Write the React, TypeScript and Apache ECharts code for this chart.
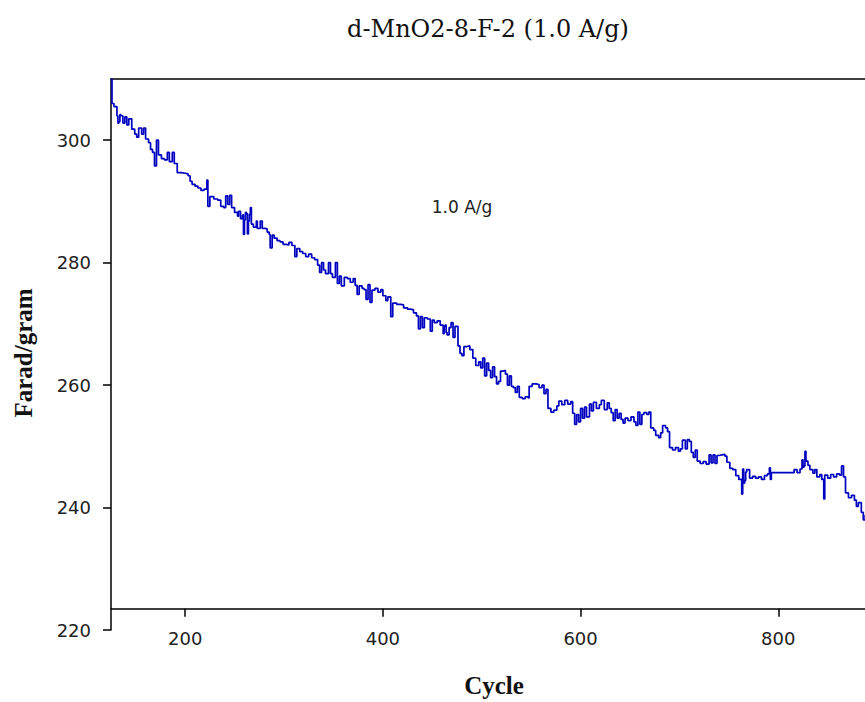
import React, { useEffect, useRef } from 'react';
import * as echarts from 'echarts';

// Specific capacitance (F/g) versus cycle number
const segA: [number, number][] = [
  [125, 310], [126, 306], [128, 305.5], [131, 304], [132, 302.8], [133, 303], [134, 304.2], [135, 304], [137, 302.8], [139, 303.8],
  [141, 302.5], [143, 303.5], [146, 301.8], [149, 301], [151, 300.5], [153, 302], [156, 301], [158, 302],
  [160, 300.2], [163, 299.6], [165, 298.5], [167, 298], [169, 295.8], [171, 300], [173, 297.6], [176, 297],
  [179, 296.8], [182, 298], [184, 296.5], [187, 298], [189, 296.2], [192, 294.7], [196, 294.6], [200, 294.5],
  [203, 294.2], [205, 293.3], [207, 292.8], [210, 292.5], [213, 292.2], [216, 291.8], [219, 292], [222, 293.5],
  [223, 289.2], [225, 290.8], [229, 290.4], [233, 290.2], [236, 289.2], [239, 289], [241, 290.9], [243, 289.5],
  [245, 291], [247, 289], [250, 288.2], [253, 287.6], [254, 288.4], [256, 287.2],
];
const segB: [number, number][] = [
  [258, 287.8], [259, 284.6], [260, 287], [261, 288.2], [262, 288], [263, 284.7], [264, 286.8], [265, 287.9], [266, 289], [267, 286.3],
  [269, 285.8], [272, 286.8], [273, 285.6], [276, 286.8], [278, 285.6], [281, 285.5], [283, 285], [285, 284.6],
  [286, 282.4], [288, 284.5], [290, 284], [293, 283.6], [296, 283.4], [299, 283], [302, 282.9], [305, 283.3],
  [308, 282.8], [311, 281], [313, 282.3], [316, 281.8], [319, 281.5], [322, 281], [325, 281.4], [328, 280.8],
  [331, 280.5], [334, 279.6], [336, 278.4], [338, 280], [340, 278.8], [342, 278.2], [345, 280], [347, 278.2],
  [349, 277.6], [352, 280], [354, 276.6], [356, 277.8], [358, 276.2], [361, 277.6], [364, 277.4], [367, 276.8],
  [370, 277.4], [372, 276.3], [374, 274.8], [376, 276.2], [379, 275.8], [381, 275.6], [383, 274],
];
const segC: [number, number][] = [
  [385, 276.4], [387, 273.5], [389, 275.5], [392, 275.8], [395, 275.2], [398, 275.6], [400, 274.6], [403, 273.8],
  [405, 274.4], [408, 271.2], [410, 273.4], [414, 273.2], [418, 273.1], [421, 272.6], [425, 272.4], [428, 272.3],
  [431, 271.8], [434, 271.3], [436, 269.2], [438, 271.2], [440, 269.4], [442, 271], [445, 270.8], [448, 268.8],
  [450, 270.6], [452, 270.2], [455, 270.5], [458, 269.8], [461, 268.4], [462, 269.6], [463, 269.8], [464, 268.6], [465, 268.2], [467, 269.4],
  [469, 270.2], [471, 267.8], [473, 269.6], [476, 266.4], [478, 265.2], [480, 264.8], [482, 266.3], [485, 266.4],
  [488, 265.8], [491, 264.4], [494, 263.2], [497, 263.8], [499, 262.8], [501, 264.4], [503, 261.5], [505, 263.6],
  [507, 262.4], [509, 261.2], [511, 263], [513, 261.4], [515, 260.2],
];
const segD: [number, number][] = [
  [517, 260.6], [519, 262.3], [522, 262.4], [524, 261.8], [526, 260], [528, 261.5], [530, 259.8], [532, 259.6],
  [534, 258.8], [536, 259.8], [538, 258], [541, 257.8], [544, 258.1], [547, 257.9], [548, 259.8], [551, 260.2],
  [555, 260.1], [558, 259.6], [561, 260], [563, 258.6], [565, 259.3], [567, 256.2], [570, 255.6], [573, 255.9],
  [576, 256.6], [578, 257.4], [581, 256.8], [584, 257.5], [587, 256.9], [590, 257.3], [592, 255.4], [594, 253.6],
  [596, 255.2], [598, 254], [600, 256.2], [602, 254.6], [604, 256.4], [606, 254.8], [609, 256.9], [611, 255.8],
  [613, 257.2], [616, 256.2], [619, 256.8], [621, 257.5], [624, 256], [627, 257.1], [629, 256.2], [631, 255.5],
  [633, 254.2], [635, 256], [637, 254.6], [639, 255.4], [641, 254.4], [643, 253.8], [645, 254.6],
];
const segE: [number, number][] = [
  [648, 254.2], [651, 254.8], [654, 254], [656, 253.4], [658, 255.6], [660, 253.6], [662, 255.2], [664, 255.5],
  [667, 255.2], [669, 255.6], [671, 253], [674, 252.6], [676, 251.8], [679, 251.4], [681, 252.2], [683, 253.4],
  [686, 253], [688, 252.4], [690, 249.8], [693, 249.4], [696, 249.8], [699, 249.2], [701, 249.6], [703, 251],
  [706, 249.6], [708, 251.1], [710, 250.8], [712, 249], [714, 248.2], [716, 249.4], [718, 247.6], [721, 247.2],
  [724, 247.5], [727, 247.1], [730, 248.6], [732, 247.3], [734, 248.6], [736, 247.2], [738, 248.5], [740, 248.6],
  [743, 248.7], [746, 248.4], [748, 247.4], [751, 246.4], [754, 246.2], [757, 245.2], [760, 244.6], [763, 242.2],
  [764, 246.3], [765, 244], [766, 244.4], [767, 245.8], [768, 246.2], [771, 244.8], [774, 245.1], [777, 244.8], [780, 245],
];
const segF: [number, number][] = [
  [783, 244.6], [786, 245.2], [789, 245.5], [791, 246.5], [792, 244.6], [793, 245.7], [800, 245.7], [808, 245.7],
  [814, 245.7], [816, 246.2], [819, 245.7], [822, 246.3], [824, 247.8], [825, 246.6], [826, 246.8], [827, 249.2], [828, 247.6],
  [830, 246.9], [832, 246.2], [835, 245.6], [837, 246.2], [839, 245], [842, 245.4], [844, 244.6], [846, 241.4],
  [847, 245.3], [850, 244.8], [853, 245.4], [856, 245], [859, 245.5], [862, 245.3], [864, 246.8], [866, 245],
  [868, 242.4], [871, 241.6], [874, 242], [877, 241.2], [879, 240.2], [881, 240.8], [884, 239.2], [886, 238],
  [888, 238.8],
];

const xTicks = [200, 400, 600, 800];
const yTicks = [220, 240, 260, 280, 300];

const titleText = 'd-MnO2-8-F-2 (1.0 A/g)';
const xName = 'Cycle';
const yName = 'Farad/gram';
const noteText = '1.0 A/g';

export default function App() {
  const ref = useRef<HTMLDivElement>(null);
  useEffect(() => {
    const chart = echarts.init(ref.current!, null, { renderer: 'svg' });
    const data = [...segA, ...segB, ...segC, ...segD, ...segE, ...segF];
    const axisLineStyle = { color: '#000', width: 1.5 };
    const labelStyle = { color: '#222', fontFamily: 'DejaVu Sans', fontSize: 18 };
    chart.setOption({
      animation: false,
      backgroundColor: '#fff',
      grid: { left: 111, top: 79, width: 865, height: 551, outerBoundsMode: 'none', containLabel: false },
      xAxis: [
        {
          type: 'value',
          position: 'bottom',
          min: 125,
          max: 1000,
          offset: -21.3,
          axisLine: { show: true, onZero: false, lineStyle: axisLineStyle },
          axisTick: { show: true, inside: false, length: 8, lineStyle: axisLineStyle, customValues: xTicks },
          axisLabel: { show: true, margin: 21, ...labelStyle, customValues: xTicks },
          splitLine: { show: false },
        },
        {
          type: 'value',
          position: 'top',
          min: 125,
          max: 1000,
          axisLine: { show: true, onZero: false, lineStyle: axisLineStyle },
          axisTick: { show: false },
          axisLabel: { show: false },
          splitLine: { show: false },
        },
      ],
      yAxis: {
        type: 'value',
        min: 220,
        max: 310,
        axisLine: { show: true, onZero: false, lineStyle: axisLineStyle },
        axisTick: { show: true, inside: false, length: 8, lineStyle: axisLineStyle, customValues: yTicks },
        axisLabel: { show: true, margin: 20, ...labelStyle, customValues: yTicks },
        splitLine: { show: false },
      },
      series: [
        {
          type: 'line',
          xAxisIndex: 0,
          yAxisIndex: 0,
          data,
          step: 'end',
          symbol: 'none',
          lineStyle: { color: '#0000C0', width: 1.7 },
        },
      ],
      graphic: [
        {
          type: 'text',
          x: 488,
          y: 29,
          style: {
            text: titleText,
            fontFamily: 'DejaVu Serif',
            fontSize: 24,
            fill: '#111',
            textAlign: 'center',
            textVerticalAlign: 'middle',
          },
        },
        {
          type: 'text',
          x: 494,
          y: 685,
          style: {
            text: xName,
            fontFamily: 'Liberation Serif',
            fontWeight: 'bold',
            fontSize: 25,
            fill: '#111',
            textAlign: 'center',
            textVerticalAlign: 'middle',
          },
        },
        {
          type: 'text',
          x: 23,
          y: 353,
          rotation: Math.PI / 2,
          style: {
            text: yName,
            fontFamily: 'Liberation Serif',
            fontWeight: 'bold',
            fontSize: 25,
            fill: '#111',
            textAlign: 'center',
            textVerticalAlign: 'middle',
          },
        },
        {
          type: 'text',
          x: 462,
          y: 207,
          style: {
            text: noteText,
            fontFamily: 'DejaVu Sans',
            fontSize: 17,
            fill: '#222',
            textAlign: 'center',
            textVerticalAlign: 'middle',
          },
        },
      ],
    });
    return () => chart.dispose();
  }, []);
  return (
    <div
      ref={ref}
      style={{ position: 'fixed', left: 0, top: 0, width: 865, height: 702, background: '#fff' }}
    />
  );
}
